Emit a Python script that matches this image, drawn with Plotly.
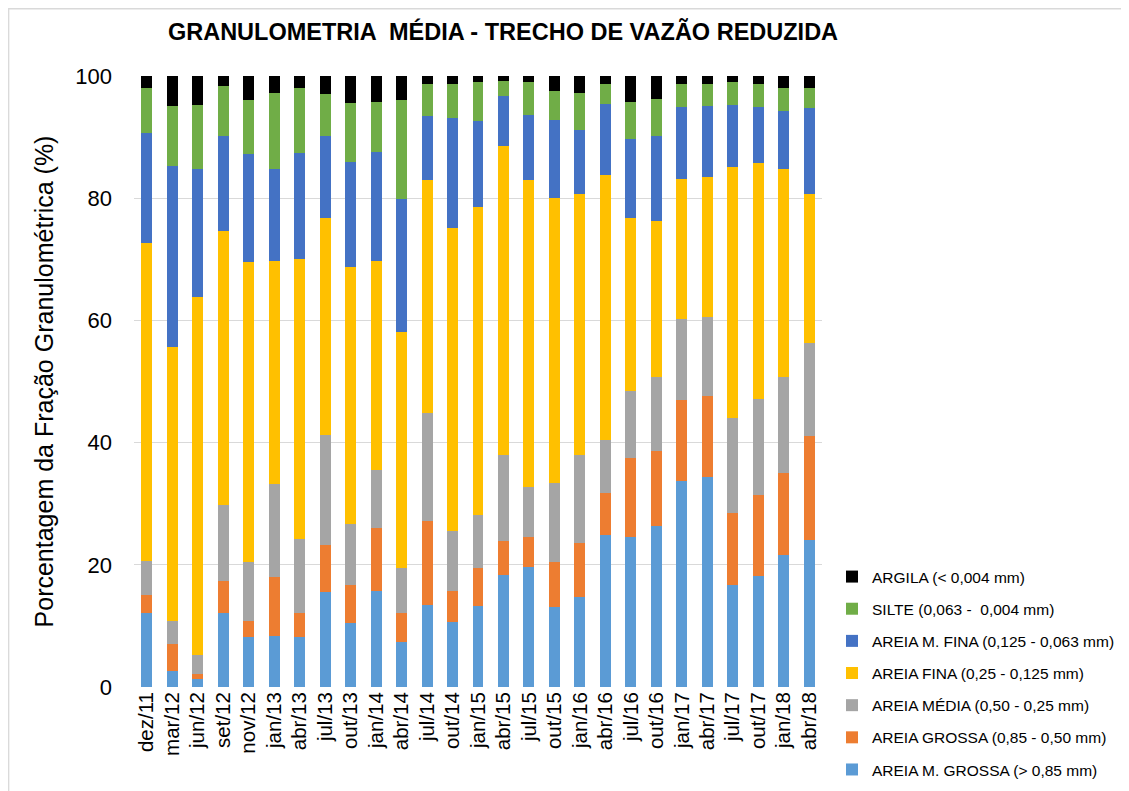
import plotly.graph_objects as go

categories = ["dez/11", "mar/12", "jun/12", "set/12", "nov/12", "jan/13", "abr/13", "jul/13", "out/13",
              "jan/14", "abr/14", "jul/14", "out/14", "jan/15", "abr/15", "jul/15", "out/15", "jan/16",
              "abr/16", "jul/16", "out/16", "jan/17", "abr/17", "jul/17", "out/17", "jan/18", "abr/18"]

areia_m_grossa = [12.1, 2.7, 1.3, 12.1, 8.2, 8.3, 8.2, 15.5, 10.4, 15.7, 7.3, 13.5, 10.6, 13.2,
                  18.4, 19.6, 13.1, 14.7, 24.9, 24.6, 26.3, 33.7, 34.4, 16.7, 18.1, 21.6, 24.0]
areia_grossa = [2.9, 4.3, 0.8, 5.3, 2.6, 9.7, 3.9, 7.7, 6.3, 10.4, 4.8, 13.6, 5.1, 6.2,
                5.5, 4.9, 7.3, 8.9, 6.9, 12.8, 12.3, 13.2, 13.3, 11.8, 13.4, 13.4, 17.0]
areia_media = [5.6, 3.8, 3.2, 12.4, 9.6, 15.3, 12.1, 18.0, 9.9, 9.4, 7.3, 17.8, 9.9, 8.8,
               14.1, 8.3, 13.0, 14.3, 8.7, 11.0, 12.2, 13.4, 12.8, 15.6, 15.7, 15.8, 15.3]
areia_fina = [52.1, 44.9, 58.6, 44.9, 49.2, 36.5, 45.9, 35.5, 42.1, 34.3, 38.7, 38.1, 49.6, 50.4,
              50.6, 50.2, 46.7, 42.8, 43.3, 28.4, 25.5, 22.9, 22.9, 41.0, 38.6, 34.0, 24.4]
areia_m_fina = [18.0, 29.6, 20.8, 15.5, 17.7, 14.9, 17.3, 13.4, 17.3, 17.8, 21.7, 10.5, 18.0, 14.1,
                8.2, 10.6, 12.7, 10.5, 11.7, 12.9, 13.9, 11.7, 11.7, 10.2, 9.1, 9.5, 14.1]
silte = [7.4, 9.8, 10.6, 8.1, 8.8, 12.6, 10.7, 7.0, 9.6, 8.2, 16.3, 5.2, 5.5, 6.4,
         2.4, 5.4, 4.7, 6.0, 3.2, 6.0, 6.0, 3.8, 3.6, 3.7, 3.8, 3.7, 3.2]
argila = [1.9, 4.9, 4.7, 1.7, 3.9, 2.7, 1.9, 2.9, 4.4, 4.2, 3.9, 1.3, 1.3, 0.9,
          0.8, 1.0, 2.5, 2.8, 1.3, 4.3, 3.8, 1.3, 1.3, 1.0, 1.3, 2.0, 2.0]

series = [
    ("AREIA M. GROSSA (> 0,85 mm)", areia_m_grossa, "#5B9BD5"),
    ("AREIA GROSSA (0,85 - 0,50 mm)", areia_grossa, "#ED7D31"),
    ("AREIA MÉDIA (0,50 - 0,25 mm)", areia_media, "#A5A5A5"),
    ("AREIA FINA (0,25 - 0,125 mm)", areia_fina, "#FFC000"),
    ("AREIA M. FINA (0,125 - 0,063 mm)", areia_m_fina, "#4472C4"),
    ("SILTE (0,063 -  0,004 mm)", silte, "#70AD47"),
    ("ARGILA (< 0,004 mm)", argila, "#000000"),
]

FONT = "Arial, 'Liberation Sans', sans-serif"

# the page places the figure 8 px from the top-left corner of the window
OFF = 8
W, H = 1129 - OFF, 791 - OFF
L, R, T, B = 134 - OFF, 822 - OFF, 76 - OFF, 687.5 - OFF
pw, ph = R - L, B - T

fig = go.Figure()
n = len(series)
for i, (name, vals, color) in enumerate(series):
    fig.add_trace(go.Bar(
        x=categories, y=vals, name=name,
        marker=dict(color=color, line=dict(width=0)),
        legendgroup=name, legendrank=n - i,
    ))

# chart-area border
fig.add_shape(type="rect", xref="paper", yref="paper",
              x0=(0.7 - L) / pw, x1=(W + 20 - L) / pw,
              y0=(B - (H + 20)) / ph, y1=(B - 0.7) / ph,
              line=dict(color="#D9D9D9", width=1.3), fillcolor="rgba(0,0,0,0)", layer="below")

fig.update_layout(
    width=W, height=H,
    barmode="stack", bargap=0.57,
    paper_bgcolor="white", plot_bgcolor="white",
    margin=dict(l=L, r=W - R, t=T, b=H - B, autoexpand=False),
    font=dict(family=FONT, color="#000000"),
    title=dict(text="<b>GRANULOMETRIA  MÉDIA - TRECHO DE VAZÃO REDUZIDA</b>",
               x=(503 - OFF) / W, xanchor="center", xref="container",
               y=1 - (32 - OFF) / H, yanchor="middle", yref="container",
               font=dict(size=23.5, family=FONT, color="#000000")),
    xaxis=dict(tickangle=-90, tickfont=dict(size=20.5, family=FONT, color="#000000"),
               showgrid=False, showline=False, ticks="", automargin=False),
    yaxis=dict(range=[0, 100], dtick=20, showgrid=True, gridcolor="#D9D9D9", gridwidth=1,
               zeroline=False, showline=False, ticks="", ticklabelstandoff=21,
               tickfont=dict(size=22, family=FONT, color="#000000"),
               title=dict(text="Porcentagem da Fração Granulométrica (%)", standoff=14,
                          font=dict(size=25, family=FONT, color="#000000")),
               automargin=False),
    legend=dict(traceorder="grouped", tracegroupgap=9,
                xref="container", yref="container",
                x=(832 - OFF) / W, xanchor="left", y=(H - (560 - OFF)) / H, yanchor="top",
                font=dict(size=15.5, family=FONT, color="#000000"),
                itemwidth=30, bgcolor="rgba(0,0,0,0)"),
)

fig.write_html("out.html")
